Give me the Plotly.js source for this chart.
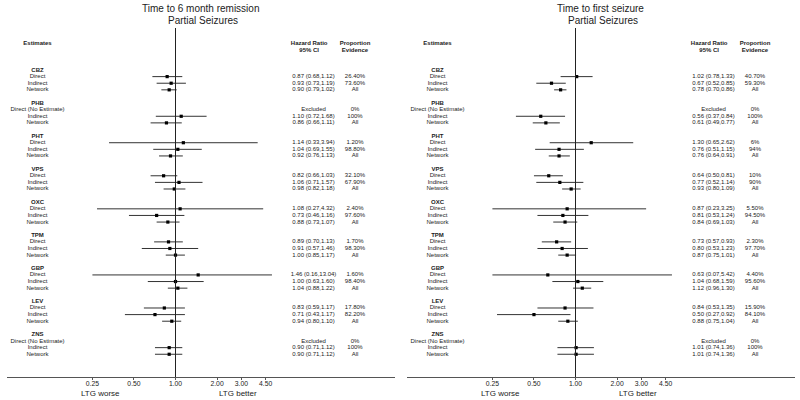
<!DOCTYPE html>
<html>
<head>
<meta charset="utf-8">
<script src="https://cdn.plot.ly/plotly-3.0.1.min.js"></script>
<style>html,body{margin:0;padding:0;background:#fff;}#chart{width:800px;height:400px;}</style>
</head>
<body>
<div id="chart"></div>
<script>
// ---------- data ----------
const drugs = ['CBZ', 'PHB', 'PHT', 'VPS', 'OXC', 'TPM', 'GBP', 'LEV', 'ZNS'];
const estimateTypes = ['Direct', 'Indirect', 'Network'];

// Time to 6 month remission (per drug: Direct, Indirect, Network); null = excluded
const remHR = [0.87, 0.93, 0.90, null, 1.10, 0.86, 1.14, 1.04, 0.92, 0.82, 1.06, 0.98, 1.08, 0.73, 0.88, 0.89, 0.91, 1.00, 1.46, 1.00, 1.04, 0.83, 0.71, 0.94, null, 0.90, 0.90];
const remLo = [0.68, 0.73, 0.79, null, 0.72, 0.66, 0.33, 0.69, 0.76, 0.66, 0.71, 0.82, 0.27, 0.46, 0.73, 0.70, 0.57, 0.85, 0.16, 0.63, 0.88, 0.59, 0.43, 0.80, null, 0.71, 0.71];
const remHi = [1.12, 1.19, 1.02, null, 1.68, 1.11, 3.94, 1.55, 1.13, 1.03, 1.57, 1.18, 4.32, 1.16, 1.07, 1.13, 1.46, 1.17, 13.04, 1.60, 1.22, 1.17, 1.17, 1.10, null, 1.12, 1.12];
const remProp = ['26.40%', '73.60%', 'All', '0%', '100%', 'All', '1.20%', '98.80%', 'All', '32.10%', '67.90%', 'All', '2.40%', '97.60%', 'All', '1.70%', '98.30%', 'All', '1.60%', '98.40%', 'All', '17.80%', '82.20%', 'All', '0%', '100%', 'All'];

// Time to first seizure
const seizHR = [1.02, 0.67, 0.78, null, 0.56, 0.61, 1.30, 0.76, 0.76, 0.64, 0.77, 0.93, 0.87, 0.81, 0.84, 0.73, 0.80, 0.87, 0.63, 1.04, 1.12, 0.84, 0.50, 0.88, null, 1.01, 1.01];
const seizLo = [0.78, 0.52, 0.70, null, 0.37, 0.49, 0.65, 0.51, 0.64, 0.50, 0.52, 0.80, 0.23, 0.53, 0.69, 0.57, 0.53, 0.75, 0.07, 0.68, 0.96, 0.53, 0.27, 0.75, null, 0.74, 0.74];
const seizHi = [1.33, 0.85, 0.86, null, 0.84, 0.77, 2.62, 1.15, 0.91, 0.81, 1.14, 1.09, 3.25, 1.24, 1.03, 0.93, 1.23, 1.01, 5.42, 1.59, 1.30, 1.35, 0.92, 1.04, null, 1.36, 1.36];
const seizProp = ['40.70%', '59.30%', 'All', '0%', '100%', 'All', '6%', '94%', 'All', '10%', '90%', 'All', '5.50%', '94.50%', 'All', '2.30%', '97.70%', 'All', '4.40%', '95.60%', 'All', '15.90%', '84.10%', 'All', '0%', '100%', 'All'];

const tickVals = [0.25, 0.5, 1, 2, 3, 4.5];
const tickText = ['0.25', '0.50', '1.00', '2.00', '3.00', '4.50'];

const panelTitles = ['Time to 6 month remission', 'Time to first seizure'];
const subTitle = 'Partial Seizures';

// ---------- layout constants ----------
const FONT = 'Liberation Sans, Arial, Helvetica, sans-serif';
const TXT = '#222';
const COL_LABEL = 0.1, COL_HR = 10, COL_HR_HEAD = 9.3, COL_PROP = 20;
const CLIP_LO = 0.25, CLIP_HI = 5;
const HEAD1 = -4.04, HEAD2 = -2.92;

function buildPanel(hr, lo, hi, prop, xa) {
  const traces = [];
  const labY = [], labT = [], hrY = [], hrT = [], prY = [], prT = [];
  const ciX = [], ciY = [], ptX = [], ptY = [];
  drugs.forEach((d, g) => {
    const base = g * 5;
    labY.push(base); labT.push('<b>' + d + '</b>');
    estimateTypes.forEach((t, k) => {
      const i = g * 3 + k, r = base + 1 + k;
      const missing = hr[i] === null;
      labY.push(r);
      labT.push(missing ? t + ' (No Estimate)' : t);
      hrY.push(r);
      hrT.push(missing ? 'Excluded' : hr[i].toFixed(2) + ' (' + lo[i].toFixed(2) + ',' + hi[i].toFixed(2) + ')');
      prY.push(r); prT.push(prop[i]);
      if (!missing) {
        ciX.push(Math.max(lo[i], CLIP_LO), Math.min(hi[i], CLIP_HI), null);
        ciY.push(r, r, null);
        ptX.push(hr[i]); ptY.push(r);
      }
    });
  });
  const tf = {family: FONT, size: 6, color: TXT};
  traces.push({type: 'scatter', mode: 'lines', x: ciX, y: ciY, xaxis: xa, yaxis: 'y',
    line: {color: '#333', width: 1}, hoverinfo: 'skip'});
  traces.push({type: 'scatter', mode: 'markers', x: ptX, y: ptY, xaxis: xa, yaxis: 'y',
    marker: {symbol: 'square', size: 3.2, color: '#000'}, hoverinfo: 'skip'});
  traces.push({type: 'scatter', mode: 'text', x: labY.map(() => COL_LABEL), y: labY, text: labT,
    textposition: 'middle center', textfont: tf, xaxis: xa, yaxis: 'y', hoverinfo: 'skip'});
  traces.push({type: 'scatter', mode: 'text', x: hrY.map(() => COL_HR), y: hrY, text: hrT,
    textposition: 'middle center', textfont: tf, xaxis: xa, yaxis: 'y', hoverinfo: 'skip'});
  traces.push({type: 'scatter', mode: 'text', x: prY.map(() => COL_PROP), y: prY, text: prT,
    textposition: 'middle center', textfont: tf, xaxis: xa, yaxis: 'y', hoverinfo: 'skip'});
  // headers
  traces.push({type: 'scatter', mode: 'text',
    x: [COL_LABEL, COL_HR_HEAD, COL_HR_HEAD, COL_PROP, COL_PROP],
    y: [HEAD1, HEAD1, HEAD2, HEAD1, HEAD2],
    text: ['<b>Estimates</b>', '<b>Hazard Ratio</b>', '<b>95% CI</b>', '<b>Proportion</b>', '<b>Evidence</b>'],
    textposition: 'middle center', textfont: tf, xaxis: xa, yaxis: 'y', hoverinfo: 'skip', cliponaxis: false});
  return traces;
}

const data = [].concat(
  buildPanel(remHR, remLo, remHi, remProp, 'x'),
  buildPanel(seizHR, seizLo, seizHi, seizProp, 'x2')
);

const xRange = [-1.221, 1.5906];
function xAxis(domain) {
  return {
    type: 'log', range: xRange, domain: domain, anchor: 'y',
    tickvals: tickVals, ticktext: tickText,
    tickfont: {family: FONT, size: 6.8, color: TXT},
    ticklabelstandoff: -2,
    showgrid: false, zeroline: false, showline: true, linecolor: '#555', linewidth: 1,
    ticks: 'outside', ticklen: 2, tickcolor: '#555', tickwidth: 1, fixedrange: true
  };
}

const ann = [];
const centers = [[0.25, 0.2535, 0.126, 0.2975], [0.75, 0.7534, 0.626, 0.7975]];
panelTitles.forEach((t, p) => {
  const c = centers[p];
  ann.push({text: t, x: c[0], y: 1.0564, xref: 'paper', yref: 'paper', showarrow: false,
    xanchor: 'center', yanchor: 'middle', font: {family: FONT, size: 10, color: TXT}});
  ann.push({text: subTitle, x: c[1], y: 1.0229, xref: 'paper', yref: 'paper', showarrow: false,
    xanchor: 'center', yanchor: 'middle', font: {family: FONT, size: 10, color: TXT}});
  ann.push({text: 'LTG worse', x: c[2], y: -0.047, xref: 'paper', yref: 'paper', showarrow: false,
    xanchor: 'center', yanchor: 'middle', font: {family: FONT, size: 8, color: TXT}});
  ann.push({text: 'LTG better', x: c[3], y: -0.047, xref: 'paper', yref: 'paper', showarrow: false,
    xanchor: 'center', yanchor: 'middle', font: {family: FONT, size: 8, color: TXT}});
});

const layout = {
  width: 800, height: 400,
  margin: {l: 0, r: 0, t: 28, b: 23, pad: 0},
  paper_bgcolor: '#fff', plot_bgcolor: '#fff',
  showlegend: false,
  xaxis: xAxis([7 / 800, 395 / 800]),
  xaxis2: xAxis([407 / 800, 795 / 800]),
  yaxis: {range: [46.44, -6.354], visible: false, fixedrange: true, domain: [0, 1]},
  shapes: ['x', 'x2'].map(xr => ({type: 'line', xref: xr, yref: 'paper', x0: 1, x1: 1, y0: 0, y1: 1,
    line: {color: '#222', width: 1}})),
  annotations: ann
};

Plotly.newPlot('chart', data, layout, {displayModeBar: false, staticPlot: true});
</script>
</body>
</html>
